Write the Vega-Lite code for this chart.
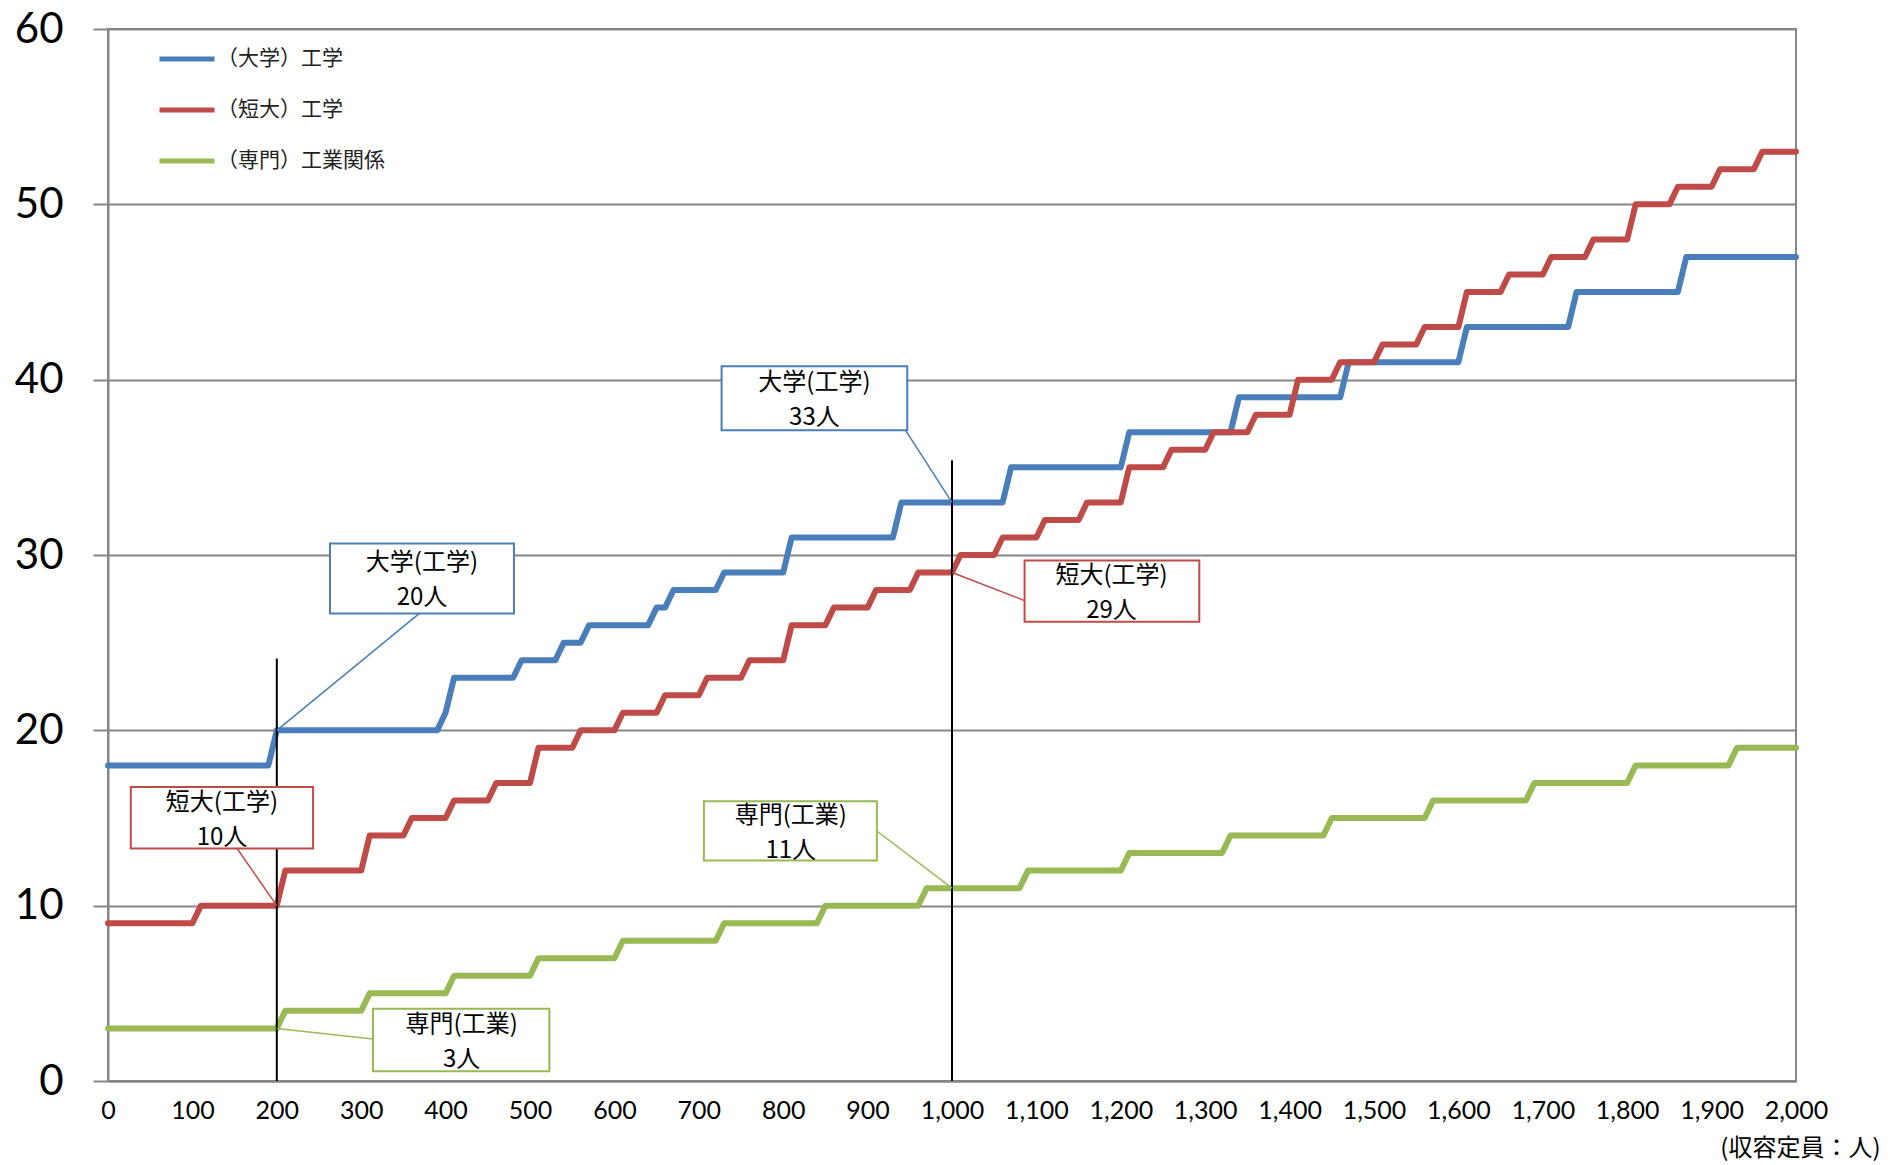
{
  "$schema": "https://vega.github.io/schema/vega-lite/v6.json",
  "width": 1688,
  "height": 1052,
  "autosize": {"type": "none"},
  "padding": {"left": 108, "top": 29, "right": 94, "bottom": 84},
  "background": "white",
  "config": {
    "view": {"stroke": "#868686", "strokeWidth": 2},
    "axis": {"domainColor": "#868686", "domainWidth": 2, "labelColor": "#000000"}
  },
  "datasets": {
    "series": [
      {"s": "（大学）工学", "x": 0, "y": 18}, {"s": "（大学）工学", "x": 190, "y": 18}, {"s": "（大学）工学", "x": 200, "y": 20}, {"s": "（大学）工学", "x": 390, "y": 20}, {"s": "（大学）工学", "x": 400, "y": 21}, {"s": "（大学）工学", "x": 410, "y": 23}, {"s": "（大学）工学", "x": 480, "y": 23}, {"s": "（大学）工学", "x": 490, "y": 24}, {"s": "（大学）工学", "x": 530, "y": 24}, {"s": "（大学）工学", "x": 540, "y": 25}, {"s": "（大学）工学", "x": 560, "y": 25}, {"s": "（大学）工学", "x": 570, "y": 26}, {"s": "（大学）工学", "x": 640, "y": 26}, {"s": "（大学）工学", "x": 650, "y": 27}, {"s": "（大学）工学", "x": 660, "y": 27}, {"s": "（大学）工学", "x": 670, "y": 28}, {"s": "（大学）工学", "x": 720, "y": 28}, {"s": "（大学）工学", "x": 730, "y": 29}, {"s": "（大学）工学", "x": 800, "y": 29}, {"s": "（大学）工学", "x": 810, "y": 31}, {"s": "（大学）工学", "x": 930, "y": 31}, {"s": "（大学）工学", "x": 940, "y": 33}, {"s": "（大学）工学", "x": 1060, "y": 33}, {"s": "（大学）工学", "x": 1070, "y": 35}, {"s": "（大学）工学", "x": 1200, "y": 35}, {"s": "（大学）工学", "x": 1210, "y": 37}, {"s": "（大学）工学", "x": 1330, "y": 37}, {"s": "（大学）工学", "x": 1340, "y": 39}, {"s": "（大学）工学", "x": 1460, "y": 39}, {"s": "（大学）工学", "x": 1470, "y": 41}, {"s": "（大学）工学", "x": 1600, "y": 41}, {"s": "（大学）工学", "x": 1610, "y": 43}, {"s": "（大学）工学", "x": 1730, "y": 43}, {"s": "（大学）工学", "x": 1740, "y": 45}, {"s": "（大学）工学", "x": 1860, "y": 45}, {"s": "（大学）工学", "x": 1870, "y": 47}, {"s": "（大学）工学", "x": 2000, "y": 47},
      {"s": "（短大）工学", "x": 0, "y": 9}, {"s": "（短大）工学", "x": 100, "y": 9}, {"s": "（短大）工学", "x": 110, "y": 10}, {"s": "（短大）工学", "x": 200, "y": 10}, {"s": "（短大）工学", "x": 210, "y": 12}, {"s": "（短大）工学", "x": 300, "y": 12}, {"s": "（短大）工学", "x": 310, "y": 14}, {"s": "（短大）工学", "x": 350, "y": 14}, {"s": "（短大）工学", "x": 360, "y": 15}, {"s": "（短大）工学", "x": 400, "y": 15}, {"s": "（短大）工学", "x": 410, "y": 16}, {"s": "（短大）工学", "x": 450, "y": 16}, {"s": "（短大）工学", "x": 460, "y": 17}, {"s": "（短大）工学", "x": 500, "y": 17}, {"s": "（短大）工学", "x": 510, "y": 19}, {"s": "（短大）工学", "x": 550, "y": 19}, {"s": "（短大）工学", "x": 560, "y": 20}, {"s": "（短大）工学", "x": 600, "y": 20}, {"s": "（短大）工学", "x": 610, "y": 21}, {"s": "（短大）工学", "x": 650, "y": 21}, {"s": "（短大）工学", "x": 660, "y": 22}, {"s": "（短大）工学", "x": 700, "y": 22}, {"s": "（短大）工学", "x": 710, "y": 23}, {"s": "（短大）工学", "x": 750, "y": 23}, {"s": "（短大）工学", "x": 760, "y": 24}, {"s": "（短大）工学", "x": 800, "y": 24}, {"s": "（短大）工学", "x": 810, "y": 26}, {"s": "（短大）工学", "x": 850, "y": 26}, {"s": "（短大）工学", "x": 860, "y": 27}, {"s": "（短大）工学", "x": 900, "y": 27}, {"s": "（短大）工学", "x": 910, "y": 28}, {"s": "（短大）工学", "x": 950, "y": 28}, {"s": "（短大）工学", "x": 960, "y": 29}, {"s": "（短大）工学", "x": 1000, "y": 29}, {"s": "（短大）工学", "x": 1010, "y": 30}, {"s": "（短大）工学", "x": 1050, "y": 30}, {"s": "（短大）工学", "x": 1060, "y": 31}, {"s": "（短大）工学", "x": 1100, "y": 31}, {"s": "（短大）工学", "x": 1110, "y": 32}, {"s": "（短大）工学", "x": 1150, "y": 32}, {"s": "（短大）工学", "x": 1160, "y": 33}, {"s": "（短大）工学", "x": 1200, "y": 33}, {"s": "（短大）工学", "x": 1210, "y": 35}, {"s": "（短大）工学", "x": 1250, "y": 35}, {"s": "（短大）工学", "x": 1260, "y": 36}, {"s": "（短大）工学", "x": 1300, "y": 36}, {"s": "（短大）工学", "x": 1310, "y": 37}, {"s": "（短大）工学", "x": 1350, "y": 37}, {"s": "（短大）工学", "x": 1360, "y": 38}, {"s": "（短大）工学", "x": 1400, "y": 38}, {"s": "（短大）工学", "x": 1410, "y": 40}, {"s": "（短大）工学", "x": 1450, "y": 40}, {"s": "（短大）工学", "x": 1460, "y": 41}, {"s": "（短大）工学", "x": 1500, "y": 41}, {"s": "（短大）工学", "x": 1510, "y": 42}, {"s": "（短大）工学", "x": 1550, "y": 42}, {"s": "（短大）工学", "x": 1560, "y": 43}, {"s": "（短大）工学", "x": 1600, "y": 43}, {"s": "（短大）工学", "x": 1610, "y": 45}, {"s": "（短大）工学", "x": 1650, "y": 45}, {"s": "（短大）工学", "x": 1660, "y": 46}, {"s": "（短大）工学", "x": 1700, "y": 46}, {"s": "（短大）工学", "x": 1710, "y": 47}, {"s": "（短大）工学", "x": 1750, "y": 47}, {"s": "（短大）工学", "x": 1760, "y": 48}, {"s": "（短大）工学", "x": 1800, "y": 48}, {"s": "（短大）工学", "x": 1810, "y": 50}, {"s": "（短大）工学", "x": 1850, "y": 50}, {"s": "（短大）工学", "x": 1860, "y": 51}, {"s": "（短大）工学", "x": 1900, "y": 51}, {"s": "（短大）工学", "x": 1910, "y": 52}, {"s": "（短大）工学", "x": 1950, "y": 52}, {"s": "（短大）工学", "x": 1960, "y": 53}, {"s": "（短大）工学", "x": 2000, "y": 53},
      {"s": "（専門）工業関係", "x": 0, "y": 3}, {"s": "（専門）工業関係", "x": 200, "y": 3}, {"s": "（専門）工業関係", "x": 210, "y": 4}, {"s": "（専門）工業関係", "x": 300, "y": 4}, {"s": "（専門）工業関係", "x": 310, "y": 5}, {"s": "（専門）工業関係", "x": 400, "y": 5}, {"s": "（専門）工業関係", "x": 410, "y": 6}, {"s": "（専門）工業関係", "x": 500, "y": 6}, {"s": "（専門）工業関係", "x": 510, "y": 7}, {"s": "（専門）工業関係", "x": 600, "y": 7}, {"s": "（専門）工業関係", "x": 610, "y": 8}, {"s": "（専門）工業関係", "x": 720, "y": 8}, {"s": "（専門）工業関係", "x": 730, "y": 9}, {"s": "（専門）工業関係", "x": 840, "y": 9}, {"s": "（専門）工業関係", "x": 850, "y": 10}, {"s": "（専門）工業関係", "x": 960, "y": 10}, {"s": "（専門）工業関係", "x": 970, "y": 11}, {"s": "（専門）工業関係", "x": 1080, "y": 11}, {"s": "（専門）工業関係", "x": 1090, "y": 12}, {"s": "（専門）工業関係", "x": 1200, "y": 12}, {"s": "（専門）工業関係", "x": 1210, "y": 13}, {"s": "（専門）工業関係", "x": 1320, "y": 13}, {"s": "（専門）工業関係", "x": 1330, "y": 14}, {"s": "（専門）工業関係", "x": 1440, "y": 14}, {"s": "（専門）工業関係", "x": 1450, "y": 15}, {"s": "（専門）工業関係", "x": 1560, "y": 15}, {"s": "（専門）工業関係", "x": 1570, "y": 16}, {"s": "（専門）工業関係", "x": 1680, "y": 16}, {"s": "（専門）工業関係", "x": 1690, "y": 17}, {"s": "（専門）工業関係", "x": 1800, "y": 17}, {"s": "（専門）工業関係", "x": 1810, "y": 18}, {"s": "（専門）工業関係", "x": 1920, "y": 18}, {"s": "（専門）工業関係", "x": 1930, "y": 19}, {"s": "（専門）工業関係", "x": 2000, "y": 19}
    ],
    "notes": [
      {"s": "（大学）工学", "label": "大学(工学)\n20人", "cx": 372, "cy": 28.66, "bx1": 263, "bx2": 481, "by1": 26.67, "by2": 30.65, "lx": 369, "ly": 26.67, "px": 200, "py": 20},
      {"s": "（短大）工学", "label": "短大(工学)\n10人", "cx": 135, "cy": 15.0, "bx1": 27, "bx2": 243, "by1": 13.26, "by2": 16.77, "lx": 153, "ly": 13.26, "px": 200, "py": 10},
      {"s": "（大学）工学", "label": "大学(工学)\n33人", "cx": 837, "cy": 38.93, "bx1": 727, "bx2": 947, "by1": 37.11, "by2": 40.76, "lx": 945, "ly": 37.11, "px": 1000, "py": 33},
      {"s": "（短大）工学", "label": "短大(工学)\n29人", "cx": 1189, "cy": 27.94, "bx1": 1086, "bx2": 1293, "by1": 26.19, "by2": 29.69, "lx": 1086, "ly": 27.4, "px": 1000, "py": 29},
      {"s": "（専門）工業関係", "label": "専門(工業)\n11人", "cx": 809, "cy": 14.26, "bx1": 706, "bx2": 911, "by1": 12.58, "by2": 15.95, "lx": 911, "ly": 14.26, "px": 1000, "py": 11},
      {"s": "（専門）工業関係", "label": "専門(工業)\n3人", "cx": 419, "cy": 2.34, "bx1": 314, "bx2": 523, "by1": 0.55, "by2": 4.12, "lx": 314, "ly": 2.4, "px": 200, "py": 3}
    ],
    "vlines": [
      {"x": 200, "y1": 0, "y2": 24.1},
      {"x": 1000, "y1": 0, "y2": 35.4}
    ]
  },
  "layer": [
    {
      "data": {"name": "series"},
      "mark": {"type": "line", "strokeWidth": 6, "strokeCap": "round", "strokeJoin": "round"},
      "encoding": {
        "x": {
          "field": "x", "type": "quantitative",
          "scale": {"domain": [0, 2000], "nice": false, "zero": false},
          "axis": {
            "values": [0, 100, 200, 300, 400, 500, 600, 700, 800, 900, 1000, 1100, 1200, 1300, 1400, 1500, 1600, 1700, 1800, 1900, 2000],
            "format": ",d", "grid": false, "ticks": false, "labelPadding": 17,
            "labelFont": "Lato", "labelFontSize": 25, "labelFlush": false,
            "title": "(収容定員：人)", "titleFont": "Noto Sans CJK JP", "titleFontSize": 24, "titleFontWeight": "normal",
            "titleColor": "#000000", "titleAnchor": "end", "titleAlign": "right", "titleX": 1772, "titleY": 67, "titleBaseline": "middle", "titleLimit": 400
          }
        },
        "y": {
          "field": "y", "type": "quantitative",
          "scale": {"domain": [0, 60], "nice": false},
          "axis": {
            "values": [0, 10, 20, 30, 40, 50, 60], "grid": true, "gridColor": "#868686", "gridWidth": 2,
            "tickSize": 15, "tickColor": "#868686", "tickWidth": 2, "labelPadding": 30,
            "labelFont": "Lato", "labelFontSize": 42, "title": null
          }
        },
        "color": {
          "field": "s", "type": "nominal",
          "scale": {"domain": ["（大学）工学", "（短大）工学", "（専門）工業関係"], "range": ["#4A7EBB", "#BE4B48", "#98B954"]},
          "legend": {
            "title": null, "orient": "none", "legendX": 49, "legendY": 0, "padding": 0,
            "symbolType": "stroke", "symbolStrokeWidth": 5, "symbolSize": 3025,
            "labelFont": "Noto Sans CJK JP", "labelFontSize": 21, "labelColor": "#222222", "labelOffset": 0, "rowPadding": 11, "labelLimit": 400
          }
        },
        "order": {"field": "x", "type": "quantitative"}
      }
    },
    {
      "data": {"name": "vlines"},
      "mark": {"type": "rule", "color": "#000000", "strokeWidth": 2},
      "encoding": {
        "x": {"field": "x", "type": "quantitative", "scale": {"domain": [0, 2000], "nice": false, "zero": false}},
        "y": {"field": "y1", "type": "quantitative", "scale": {"domain": [0, 60], "nice": false}},
        "y2": {"field": "y2"}
      }
    },
    {
      "data": {"name": "notes"},
      "mark": {"type": "rule", "strokeWidth": 1.5},
      "encoding": {
        "x": {"field": "lx", "type": "quantitative", "scale": {"domain": [0, 2000], "nice": false, "zero": false}},
        "y": {"field": "ly", "type": "quantitative", "scale": {"domain": [0, 60], "nice": false}},
        "x2": {"field": "px"},
        "y2": {"field": "py"},
        "stroke": {"field": "s", "type": "nominal", "scale": {"domain": ["（大学）工学", "（短大）工学", "（専門）工業関係"], "range": ["#4A7EBB", "#BE4B48", "#98B954"]}, "legend": null}
      }
    },
    {
      "data": {"name": "notes"},
      "mark": {"type": "rect", "fill": "white", "strokeWidth": 2},
      "encoding": {
        "x": {"field": "bx1", "type": "quantitative", "scale": {"domain": [0, 2000], "nice": false, "zero": false}},
        "x2": {"field": "bx2"},
        "y": {"field": "by1", "type": "quantitative", "scale": {"domain": [0, 60], "nice": false}},
        "y2": {"field": "by2"},
        "stroke": {"field": "s", "type": "nominal", "scale": {"domain": ["（大学）工学", "（短大）工学", "（専門）工業関係"], "range": ["#4A7EBB", "#BE4B48", "#98B954"]}, "legend": null}
      }
    },
    {
      "data": {"name": "notes"},
      "mark": {"type": "text", "font": "Noto Sans CJK JP", "fontSize": 24, "lineBreak": "\n", "lineHeight": 35, "align": "center", "baseline": "middle", "dy": -15, "color": "#000000"},
      "encoding": {
        "x": {"field": "cx", "type": "quantitative", "scale": {"domain": [0, 2000], "nice": false, "zero": false}},
        "y": {"field": "cy", "type": "quantitative", "scale": {"domain": [0, 60], "nice": false}},
        "text": {"field": "label"}
      }
    }
  ]
}
